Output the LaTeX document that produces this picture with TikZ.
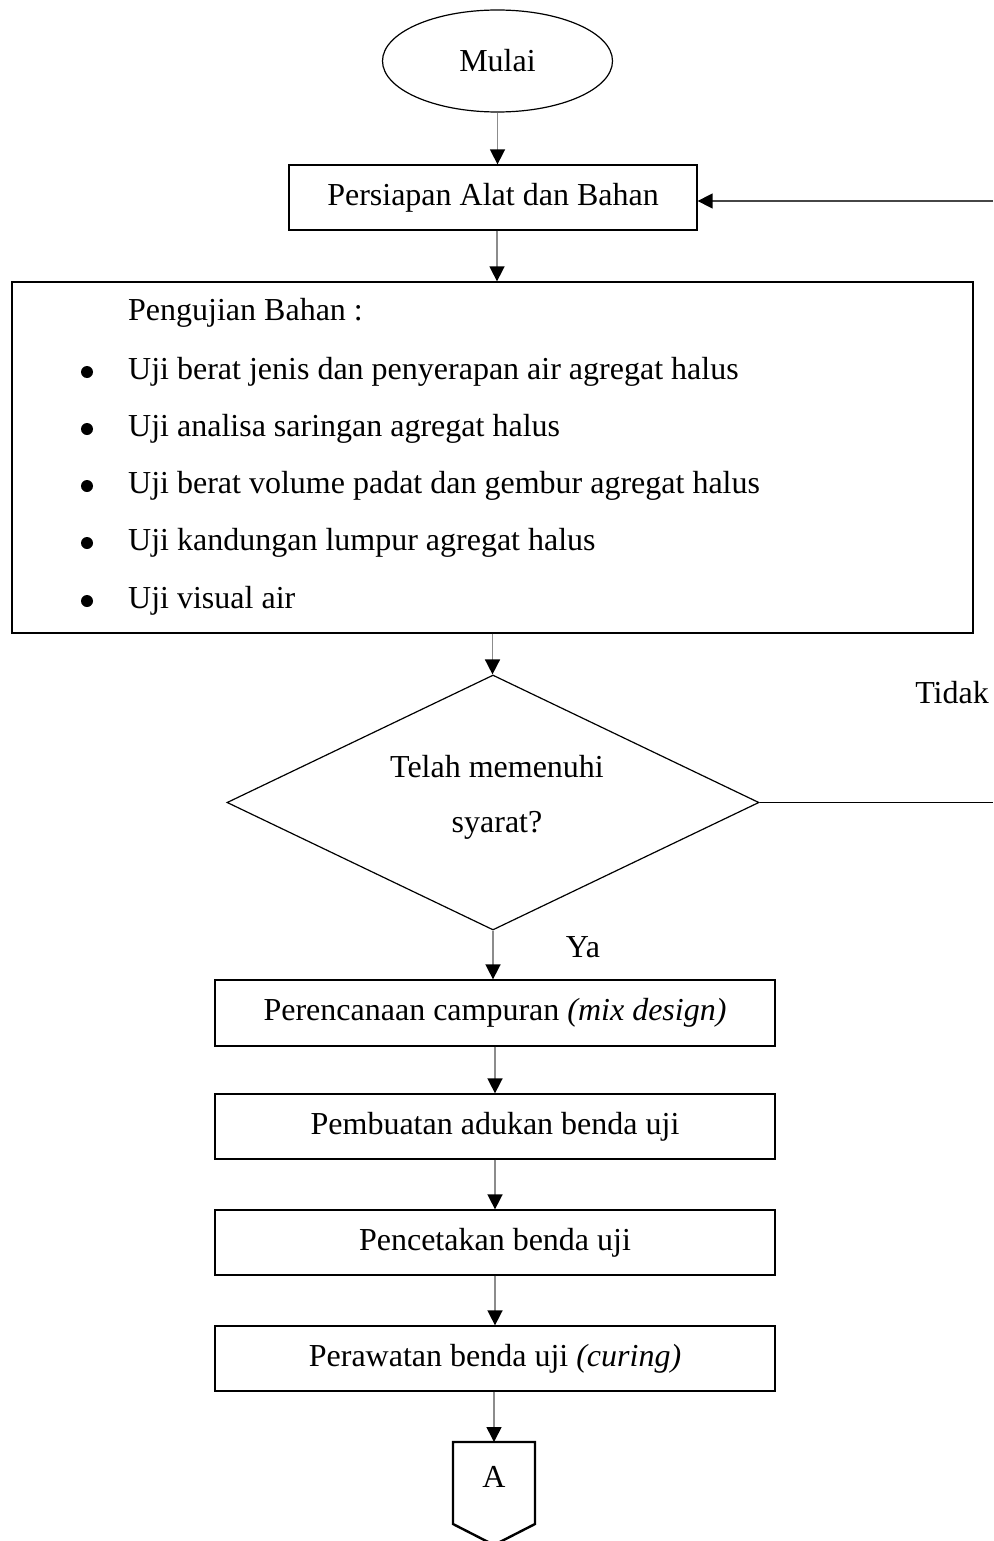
\documentclass[tikz,border=0pt]{standalone}
\usepackage{fontspec}
\setmainfont{Liberation Serif}
\usetikzlibrary{shapes.geometric,arrows.meta}
\begin{document}
\begin{tikzpicture}[x=1pt,y=-1pt,
  every node/.style={font=\fontsize{32}{38}\selectfont, inner sep=0pt},
  box/.style={draw=black, line width=1.3pt, rectangle},
  tip/.style={-{Triangle[width=15pt,length=15pt,color=black,fill=black]}},
  conn/.style={draw={rgb,255:red,140;green,140;blue,140}, line width=1.6pt, tip},
  lbl/.style={anchor=west},
  dot/.style={circle, fill=black, minimum size=12pt},
]
\useasboundingbox (0,0) rectangle (993,1541);

% nodes
\node[draw, ellipse, line width=1.2pt, minimum width=230pt, minimum height=102pt] (mulai) at (497.5,61) {Mulai};
\node[box, minimum width=408pt, minimum height=65pt] (persiapan) at (493,197.5) {Persiapan Alat dan Bahan};
\node[box, minimum width=961pt, minimum height=351pt] (uji) at (492.5,457.5) {};

\node[lbl] (t0) at (128,313) {Pengujian Bahan :};
\node[dot] (b1) at (87,372) {};
\node[lbl] (u1) at (128,372) {Uji berat jenis dan penyerapan air agregat halus};
\node[dot] (b2) at (87,429) {};
\node[lbl] (u2) at (128,429) {Uji analisa saringan agregat halus};
\node[dot] (b3) at (87,486) {};
\node[lbl] (u3) at (128,486) {Uji berat volume padat dan gembur agregat halus};
\node[dot] (b4) at (87,543) {};
\node[lbl] (u4) at (128,543) {Uji kandungan lumpur agregat halus};
\node[dot] (b5) at (87,601) {};
\node[lbl] (u5) at (128,601) {Uji visual air};

\node[draw, diamond, line width=1.2pt, minimum width=532pt, minimum height=255pt] (dec) at (493,802.5) {};
\node (d1) at (497,767) {Telah memenuhi};
\node (d2) at (497,825) {syarat?};
\node (tidak) at (952,693) {Tidak};
\node (ya) at (583,947) {Ya};

\node[box, minimum width=560pt, minimum height=66pt] (box1) at (495,1013) {Perencanaan campuran \textit{(mix design)}};
\node[box, minimum width=560pt, minimum height=65pt] (box2) at (495,1126.5) {Pembuatan adukan benda uji};
\node[box, minimum width=560pt, minimum height=65pt] (box3) at (495,1242.5) {Pencetakan benda uji};
\node[box, minimum width=560pt, minimum height=65pt] (box4) at (495,1358.5) {Perawatan benda uji \textit{(curing)}};

% off-page connector
\draw[line width=2.4pt, line join=miter] (453,1442) -- (535,1442) -- (535,1524) -- (494,1545) -- (453,1524) -- cycle;
\coordinate (atop) at (494,1442);
\node (conA) at (494,1477) {A};

% connectors
\coordinate (rin) at (993,201);
\coordinate (rout) at (993,802.5);
\draw[conn] (mulai.south) -- (mulai.south |- persiapan.north);
\draw[conn] (persiapan.south -| 497,0) -- (497,0 |- uji.north);
\draw[conn] (uji.south) -- (uji.south |- dec.north);
\draw[conn] (dec.south) -- (dec.south |- box1.north);
\draw[conn] (box1.south) -- (box2.north);
\draw[conn] (box2.south) -- (box3.north);
\draw[conn] (box3.south) -- (box4.north);
\draw[conn] (atop |- box4.south) -- (atop);
\draw[draw={rgb,255:red,70;green,70;blue,70}, line width=1.6pt, tip] (rin) -- (rin -| persiapan.east);
\draw[line width=1.3pt] (dec.east) -- (rout);
\end{tikzpicture}
\end{document}
